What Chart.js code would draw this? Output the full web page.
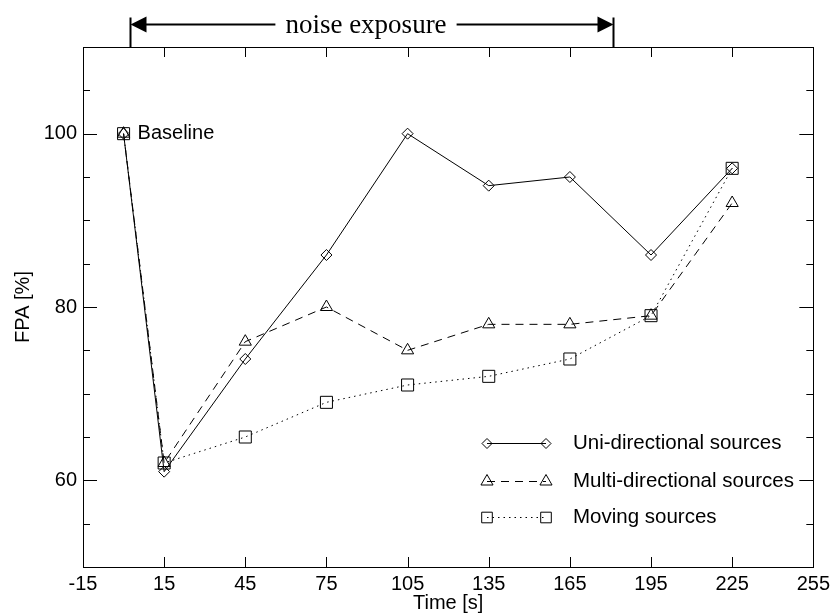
<!DOCTYPE html>
<html>
<head>
<meta charset="utf-8">
<script src="https://cdn.jsdelivr.net/npm/chart.js@4.4.0/dist/chart.umd.min.js"></script>
<style>
  html, body { margin: 0; padding: 0; background: #fff; }
  #wrap { width: 835px; height: 615px; }
</style>
</head>
<body>
<div id="wrap"><canvas id="fpa-chart" width="835" height="615"></canvas></div>
<script>
// Data
const timePoints = [0, 15, 45, 75, 105, 135, 165, 195, 225];
const uniValues = [100, 61, 74, 86, 100, 94, 95, 86, 96];
const multiValues = [100, 62, 76, 80, 75, 78, 78, 79, 92];
const movingValues = [100, 62, 65, 69, 71, 72, 74, 79, 96];
const seriesNames = ['Uni-directional sources', 'Multi-directional sources', 'Moving sources'];
const yLabelValues = [60, 80, 100];
const noiseSpan = [2.5, 181];   // time range of the "noise exposure" arrow
const noiseLabel = 'noise exposure';
const baselineLabel = 'Baseline';

const sansFont = "'Liberation Sans', Arial, sans-serif";
const serifFont = "'Liberation Serif', 'Times New Roman', serif";

// pair up x and y values
function toPoints(values) {
    return timePoints.map((t, i) => ({ x: t, y: values[i] }));
}

// draw a hollow marker, used for the legend samples
function drawMarker(ctx, style, radius, x, y) {
    ctx.save();
    ctx.fillStyle = 'rgba(0,0,0,0)';
    ctx.strokeStyle = '#000';
    ctx.lineWidth = 1;
    if (Chart.helpers && Chart.helpers.drawPoint) {
        Chart.helpers.drawPoint(ctx, { pointStyle: style, radius: radius, rotation: 0, borderWidth: 1 }, x, y);
    } else {
        ctx.beginPath();
        ctx.arc(x, y, radius, 0, Math.PI * 2);
        ctx.stroke();
    }
    ctx.restore();
}

const seriesStyles = [
    { pointStyle: 'rectRot', radius: 5.5, legendRadius: 5, dash: [] },
    { pointStyle: 'triangle', radius: 7, legendRadius: 7, dash: [8, 6] },
    { pointStyle: 'rect', radius: 8.5, legendRadius: 7.5, dash: [1.5, 4] },
];

// Frame, inward ticks, annotations and the legend
const decorations = {
    id: 'decorations',
    afterDraw(chart) {
        const ctx = chart.ctx;
        const area = chart.chartArea;
        const xs = chart.scales.x;
        const ys = chart.scales.y;

        ctx.save();
        ctx.strokeStyle = '#000';
        ctx.fillStyle = '#000';
        ctx.lineWidth = 1;

        // box
        ctx.strokeRect(Math.round(area.left) + 0.5, Math.round(area.top) + 0.5,
            Math.round(area.right - area.left), Math.round(area.bottom - area.top));

        // x ticks on top and bottom, pointing inward
        ctx.beginPath();
        xs.ticks.forEach(t => {
            const px = Math.round(xs.getPixelForValue(t.value)) + 0.5;
            ctx.moveTo(px, area.bottom);
            ctx.lineTo(px, area.bottom - 10);
            ctx.moveTo(px, area.top);
            ctx.lineTo(px, area.top + 10);
        });
        // y ticks on left and right
        ys.ticks.forEach(t => {
            const py = Math.round(ys.getPixelForValue(t.value)) + 0.5;
            const len = yLabelValues.includes(t.value) ? 14 : 7;
            ctx.moveTo(area.left, py);
            ctx.lineTo(area.left + len, py);
            ctx.moveTo(area.right, py);
            ctx.lineTo(area.right - len, py);
        });
        ctx.stroke();

        // baseline label
        ctx.font = '20px ' + sansFont;
        ctx.textAlign = 'left';
        ctx.textBaseline = 'middle';
        ctx.fillText(baselineLabel, xs.getPixelForValue(timePoints[0]) + 14, ys.getPixelForValue(uniValues[0]));

        // noise exposure arrow
        const ax1 = Math.round(xs.getPixelForValue(noiseSpan[0])) + 0.5;
        const ax2 = Math.round(xs.getPixelForValue(noiseSpan[1])) + 0.5;
        const ay = 24.5;
        const mid = (ax1 + ax2) / 2;
        ctx.font = '27px ' + serifFont;
        ctx.textAlign = 'center';
        ctx.textBaseline = 'middle';
        const tw = ctx.measureText(noiseLabel).width;
        ctx.fillText(noiseLabel, mid - 6, ay + 1);
        ctx.lineWidth = 2;
        ctx.beginPath();
        ctx.moveTo(ax1 + 10, ay); ctx.lineTo(mid - 6 - tw / 2 - 10, ay);
        ctx.moveTo(mid - 6 + tw / 2 + 10, ay); ctx.lineTo(ax2 - 10, ay);
        ctx.stroke();
        ctx.beginPath();
        ctx.moveTo(ax1, ay - 7); ctx.lineTo(ax1, area.top);
        ctx.moveTo(ax2, ay - 7); ctx.lineTo(ax2, area.top);
        ctx.stroke();
        ctx.beginPath();
        ctx.moveTo(ax1, ay); ctx.lineTo(ax1 + 16, ay - 8); ctx.lineTo(ax1 + 16, ay + 8); ctx.closePath();
        ctx.moveTo(ax2, ay); ctx.lineTo(ax2 - 16, ay - 8); ctx.lineTo(ax2 - 16, ay + 8); ctx.closePath();
        ctx.fill();

        // legend
        const rowY = [443, 481, 517];
        const lx1 = 487, lx2 = 546, tx = 573;
        ctx.lineWidth = 1;
        ctx.font = '20.5px ' + sansFont;
        ctx.textAlign = 'left';
        seriesNames.forEach((name, i) => {
            const st = seriesStyles[i];
            const y = rowY[i] + 0.5;
            ctx.setLineDash(st.dash);
            ctx.beginPath();
            ctx.moveTo(lx1, y);
            ctx.lineTo(lx2, y);
            ctx.stroke();
            ctx.setLineDash([]);
            drawMarker(ctx, st.pointStyle, st.legendRadius, lx1, y);
            drawMarker(ctx, st.pointStyle, st.legendRadius, lx2, y);
            ctx.fillText(name, tx, y);
        });
        ctx.restore();
    }
};

const datasets = [uniValues, multiValues, movingValues].map((values, i) => ({
    label: seriesNames[i],
    data: toPoints(values),
    borderColor: '#000',
    borderWidth: 1,
    borderDash: seriesStyles[i].dash,
    backgroundColor: 'rgba(0,0,0,0)',
    pointStyle: seriesStyles[i].pointStyle,
    pointRadius: seriesStyles[i].radius,
    pointBorderColor: '#000',
    pointBorderWidth: 1,
    pointBackgroundColor: 'rgba(0,0,0,0)',
    tension: 0,
    fill: false,
}));

const ctx = document.getElementById('fpa-chart').getContext('2d');
new Chart(ctx, {
    type: 'line',
    data: { datasets: datasets },
    options: {
        responsive: false,
        animation: false,
        layout: { padding: { top: 47, right: 19, left: 0, bottom: 0 } },
        plugins: {
            legend: { display: false },
            tooltip: { enabled: false },
        },
        scales: {
            x: {
                type: 'linear',
                min: -15,
                max: 255,
                grid: { display: false, drawTicks: false },
                border: { display: false },
                ticks: { stepSize: 30, color: '#000', font: { family: sansFont, size: 20 }, padding: 5 },
                title: { display: true, text: 'Time [s]', color: '#000', font: { family: sansFont, size: 20 }, padding: 0 },
                afterFit(scale) { scale.height = 48; },
            },
            y: {
                min: 50,
                max: 110,
                grid: { display: false, drawTicks: false },
                border: { display: false },
                ticks: {
                    stepSize: 5,
                    autoSkip: false,
                    color: '#000',
                    font: { family: sansFont, size: 20 },
                    padding: 6,
                    callback: v => yLabelValues.includes(v) ? String(v) : '',
                },
                title: { display: true, text: 'FPA [%]', color: '#000', font: { family: sansFont, size: 20 }, padding: { top: 11, bottom: 0 } },
                afterFit(scale) { scale.width = 83; },
            },
        },
    },
    plugins: [decorations],
});
</script>
</body>
</html>
